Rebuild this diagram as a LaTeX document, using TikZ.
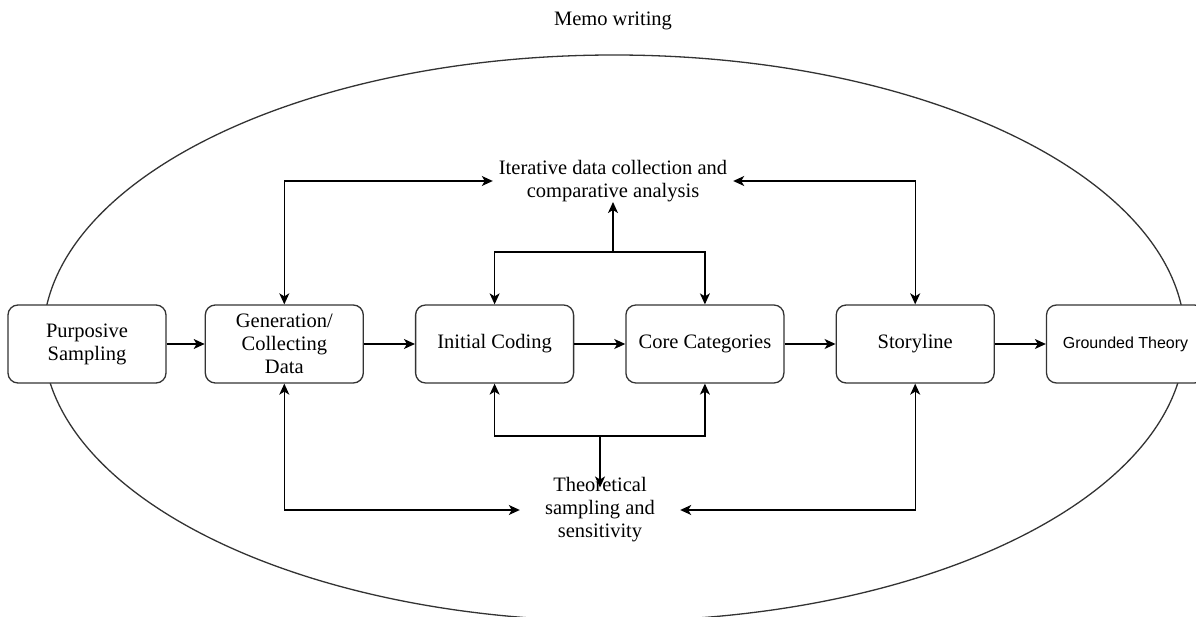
\documentclass[tikz,border=0pt]{standalone}
\usepackage{fontspec}
\setmainfont{Liberation Serif}
\newfontfamily\arialfont{Liberation Sans}
\usetikzlibrary{arrows.meta,positioning}

\begin{document}
\begin{tikzpicture}[
    x=1pt, y=-1pt,
    node distance=51pt,
    font=\fontsize{20.5}{23}\selectfont,
    box/.style={rectangle, rounded corners=10pt, draw=black!80, fill=white, line width=1.3pt, minimum width=158pt, minimum height=78pt, align=center},
    note/.style={align=center, inner sep=0pt},
    arrow/.style={-{Stealth[length=11pt,width=10pt,inset=3pt]}, line width=1.3pt},
    biarrow/.style={{Stealth[length=11pt,width=10pt,inset=3pt]}-{Stealth[length=11pt,width=10pt,inset=3pt]}, line width=1.3pt}
]
    \useasboundingbox (0,0) rectangle (1196,617);
    \clip (0,0) rectangle (1196,617);

    \draw[black!80, line width=1.3pt] (614,338) ellipse [x radius=571pt, y radius=283pt];
    \node[note] (memo) at (613,21) {Memo writing};

    \node[box] (purp) at (87,344) {Purposive\\Sampling};
    \node[box, right=38pt of purp] (gen) {Generation/\\Collecting\\Data};
    \node[box, right=of gen] (init) {Initial Coding};
    \node[box, right=of init] (core) {Core Categories};
    \node[box, right=of core] (story) {Storyline};
    \node[box, right=of story, font=\arialfont\fontsize{16}{18}\selectfont] (theory) {Grounded Theory};

    \node[note, minimum width=240pt] (iter) at (613,181) {Iterative data collection and\\comparative analysis};
    \node[note, minimum width=160pt] (theo) at (600,510) {Theoretical\\sampling and\\sensitivity};

    \coordinate (upfork) at (613,252);
    \coordinate (downfork) at (600,436);

    \draw[arrow] (purp) -- (gen);
    \draw[arrow] (gen) -- (init);
    \draw[arrow] (init) -- (core);
    \draw[arrow] (core) -- (story);
    \draw[arrow] (story) -- (theory);

    \draw[biarrow] (gen) |- (iter);
    \draw[biarrow] (story) |- (iter);
    \draw[arrow] (upfork) -- (upfork |- iter.south);
    \draw[arrow] (upfork) -| (init);
    \draw[arrow] (upfork) -| (core);

    \draw[arrow] (downfork) -- ([yshift=-10pt]theo.north);
    \draw[arrow] (downfork) -| (init);
    \draw[arrow] (downfork) -| (core);
    \draw[biarrow] (gen) |- (theo);
    \draw[biarrow] (story) |- (theo);
\end{tikzpicture}
\end{document}
